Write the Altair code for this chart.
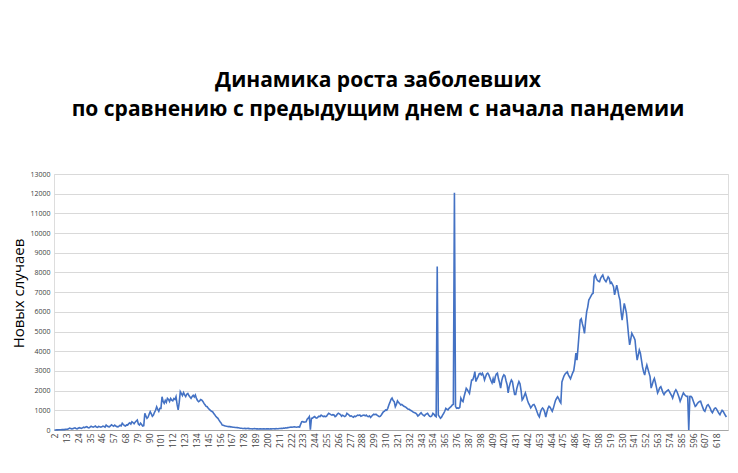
import altair as alt
import pandas as pd

# Daily new cases, starting at day 2
wave1 = [0, 2, 5, 8, 10, 12, 15, 20, 25, 18, 30, 35, 40, 60,
         100, 80, 60, 70, 90, 110, 80, 60, 90, 120, 100, 80, 110, 140, 120, 150,
         170, 130, 110, 150, 190, 160, 140, 170, 200, 150, 130, 180, 170, 140, 160, 200, 180, 150,
         250, 200, 170, 160, 210, 260, 220, 190, 250, 200, 170, 160, 200, 240, 210, 340,
         280, 230, 200, 260, 250, 320, 360, 300, 420, 380, 320, 400, 460, 510, 300, 250, 350, 280, 200, 220,
         850, 700, 590, 650, 800, 930, 820, 700, 760, 900, 1000, 1180, 1050, 950, 1100, 1100,
         1690, 1450, 1350, 1500, 1400, 1610, 1550, 1450, 1600, 1520, 1480, 1600, 1550, 1690, 1300, 1020, 1400, 1950,
         1850, 1750, 1900, 1780, 1700, 1820, 1860, 1750, 1680, 1610, 1700, 1760, 1680, 1780, 1600, 1500, 1440, 1480, 1550, 1520, 1450,
         1350, 1280, 1200, 1180, 1100, 1050, 1000, 950, 930, 850, 780, 700, 640, 590, 500, 420, 350, 250, 240, 220,
         200, 190, 180, 170, 170, 160, 150, 140, 140, 130, 130, 120, 110, 100, 90, 85, 80, 75, 80, 70, 75, 80]

lull = [70, 60, 65, 55, 60, 70, 60, 55, 60, 50, 55, 60, 50, 55, 60, 50, 55, 60,
        55, 50, 60, 55, 65, 60, 55, 70, 60, 65, 75, 80, 90, 80, 100,
        90, 110, 100, 120, 130, 140, 150, 140, 150, 160, 150, 140, 150, 160]

wave2 = [150, 300, 420, 430, 400, 410, 420, 550, 600, 680, 20, 600, 600, 650,
         680, 620, 600, 650, 700, 680, 760, 720, 680, 700, 680, 700, 780, 850, 820, 780, 760,
         780, 760, 680, 720, 800, 850, 820, 780, 700, 750, 720, 680, 720, 850, 800, 760, 700, 720, 680, 650,
         700, 680, 720, 760, 740, 760, 700, 720, 750, 760, 720, 760, 700, 680, 720, 640, 700, 760, 800, 780,
         800, 760, 720, 680, 700, 760, 850, 930, 960, 1020, 1000, 1100, 1270, 1400, 1550, 1620, 1500, 1440, 1180, 1300,
         1480, 1400, 1350, 1270, 1300, 1250, 1200, 1180, 1150, 1100, 1050, 1050, 1000, 980, 930, 900, 880, 850, 800, 710,
         750, 820, 880, 800, 750, 710, 780, 820, 850, 760, 700, 680, 720, 850, 800, 720, 680,
         8300,
         760, 680, 600, 650, 750, 850, 950, 1100, 1050, 1020, 1100, 1150, 1200, 1270, 1300,
         12050]

wave3 = [1200, 1100, 1120, 1100, 1150, 1620, 1500, 1440, 1700, 1900, 2120, 2050, 1950, 1860, 2200, 2540,
         2540, 2700, 2960, 2460, 2600, 2710, 2850, 2880, 2800, 2880, 2750, 2540, 2700, 2850, 2890, 2800, 2650, 2500, 2390, 2600,
         2390, 2700, 2850, 2890, 2600, 2400, 2130, 2500, 2700, 2800, 2750, 2500, 2300, 1880, 2200, 2400, 2540, 2450, 2100, 1800,
         1800, 2100, 2300, 2460, 2350, 2000, 1520, 1600, 1750, 1880, 1700, 1500, 1350, 1250, 1120, 1200, 1280, 1300, 1200, 1050,
         900, 750, 660, 900, 1050, 1120, 1050, 900, 660, 900, 1100, 1200, 1150, 1050, 950, 1100, 1300, 1500, 1600, 1690]

wave4 = [1600, 1450, 1370, 2440, 2600, 2750, 2850, 2900, 2950, 2800, 2700, 2600, 2750, 2900, 3010, 3400, 3900, 3550, 4200, 4900,
         5580, 5650, 5400, 5200, 4910, 5500, 6000, 6240, 6600, 6700, 6800, 6900, 6940, 7780, 7870, 7700, 7600, 7550, 7530, 7700,
         7800, 7870, 7700, 7600, 7530, 7650, 7780, 7700, 7450, 7500, 7400, 7280, 6860, 7100, 7360, 7100, 6800, 6600, 6000, 5580,
         6000, 6430, 6200, 5940, 5400, 4800, 4320, 4600, 4910, 4800, 4700, 4570, 4000, 3550, 3800, 4060, 3900, 3550, 3200, 2950,
         2790, 3100, 3300, 3100, 2900, 2710, 2130, 2300, 2500, 2620, 2400, 2150, 1880, 2000, 2150, 2200, 2050, 1900, 1800, 1900,
         1950, 2000, 2040, 1950, 1850, 1750, 1620, 1800, 1950, 2040, 1950, 1800, 1650, 1460, 1600, 1750, 1880, 1800, 1750, 1710,
         1710, 0, 1700, 1710, 1650, 1500, 1350, 1200, 1250, 1350, 1400, 1450, 1460, 1300, 1150, 1000, 950, 1100, 1250, 1290,
         1200, 1100, 950, 880, 1000, 1100, 1120, 1050, 950, 850, 780, 900, 1000, 950, 850, 750, 660]

cases = wave1 + lull + wave2 + wave3 + wave4
first_day = 2
days = list(range(first_day, first_day + len(cases)))
x_ticks = list(range(2, 619, 11))
y_ticks = list(range(0, 13001, 1000))

title_lines = ["Динамика роста заболевших",
               "по сравнению с предыдущим днем с начала пандемии"]
y_title = "Новых случаев"

df = pd.DataFrame({"day": days, "cases": cases})

chart = alt.Chart(df).mark_line(color="#4472C4", strokeWidth=1.6).encode(
    x=alt.X("day:Q",
            scale=alt.Scale(domain=[1.5, 628.5], nice=False, zero=False),
            axis=alt.Axis(values=x_ticks, format="d", labelAngle=270, labelFontSize=8.5,
                          labelColor="#404040", labelFont="Open Sans",
                          labelPadding=3, ticks=False, grid=False,
                          domainColor="#a6a6a6", domainWidth=1,
                          labelOverlap=False, labelFlush=False, title=None)),
    y=alt.Y("cases:Q",
            scale=alt.Scale(domain=[0, 13000], nice=False),
            axis=alt.Axis(values=y_ticks, format="d", labelFontSize=7, labelColor="#404040",
                          labelFont="Open Sans", labelPadding=4, ticks=False,
                          domain=False, grid=True, gridColor="#d9d9d9", gridWidth=1,
                          title=y_title, titleFont="Open Sans", titleFontSize=15,
                          titleFontWeight="normal", titleColor="#000000",
                          titleX=-36, titleY=119, titleAlign="center",
                          titleBaseline="middle", titleAngle=270)),
).properties(
    width=674,
    height=256,
    title=alt.TitleParams(text=title_lines, font="Open Sans", fontSize=21,
                          fontWeight="bold", color="#000000", anchor="middle",
                          lineHeight=29, offset=50, dx=-13),
    padding={"left": 46, "top": 166, "right": 2, "bottom": 35},
    autosize=alt.AutoSizeParams(type="none"),
).configure_view(stroke=None).configure(background="white")

chart.save("out.html", embed_options={"renderer": "svg", "actions": False})
